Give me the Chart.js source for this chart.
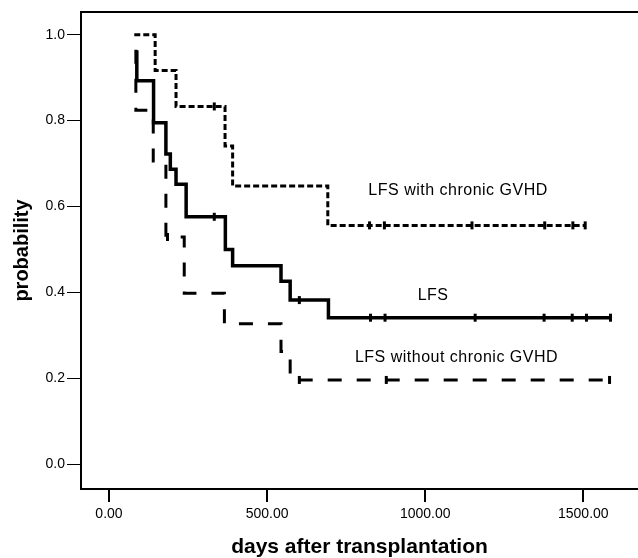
<!DOCTYPE html>
<html>
<head>
<meta charset="utf-8">
<title>LFS Kaplan-Meier</title>
<script src="https://cdn.jsdelivr.net/npm/chart.js@4/dist/chart.umd.min.js"></script>
<style>
  html, body { margin: 0; padding: 0; background: #fff; }
  canvas { display: block; }
</style>
</head>
<body>
<canvas id="km" width="638" height="558"></canvas>
<script>
// survival steps (days, probability)
const withDays = [80, 146, 212, 367, 391, 692, 1506];
const withSurv = [1.0, 0.917, 0.833, 0.741, 0.648, 0.556, 0.556];
const withCensDays = [333, 824, 871, 1148, 1378, 1467, 1506];
const withCensSurv = [0.833, 0.556, 0.556, 0.556, 0.556, 0.556, 0.556];

const lfsDays = [88, 88, 141, 180, 194, 212, 244, 368, 391, 544, 573, 694, 1586];
const lfsSurv = [0.964, 0.893, 0.795, 0.722, 0.687, 0.652, 0.576, 0.500, 0.462, 0.426, 0.382, 0.341, 0.341];
const lfsCensDays = [333, 602, 827, 873, 1158, 1376, 1465, 1510, 1586];
const lfsCensSurv = [0.576, 0.382, 0.341, 0.341, 0.341, 0.341, 0.341, 0.341, 0.341];

const withoutDays = [85, 85, 140, 180, 238, 365, 544, 573, 1583];
const withoutSurv = [0.965, 0.824, 0.706, 0.529, 0.398, 0.327, 0.262, 0.196, 0.196];
const withoutCensDays = [185, 602, 877, 1583];
const withoutCensSurv = [0.529, 0.196, 0.196, 0.196];

const curveLabels = ["LFS with chronic GVHD", "LFS", "LFS without chronic GVHD"];
const labelDays = [1104, 1025, 1099];
const labelSurv = [0.638, 0.393, 0.247];

const yTicks = [0, 0.2, 0.4, 0.6, 0.8, 1.0];
const xTicks = [0, 500, 1000, 1500];

function pts(xs, ys) {
  return xs.map((x, i) => ({x: x, y: ys[i]}));
}

function curve(xs, ys, dash, width) {
  return {
    data: pts(xs, ys),
    stepped: true,
    borderColor: '#000',
    borderWidth: width,
    borderDash: dash,
    borderCapStyle: 'butt',
    borderJoinStyle: 'miter',
    pointRadius: 0,
    fill: false
  };
}

function censors(xs, ys) {
  return {
    data: pts(xs, ys),
    showLine: false,
    pointStyle: 'line',
    rotation: 90,
    pointRadius: 4,
    pointBorderWidth: 3,
    pointBorderColor: '#000',
    pointBackgroundColor: '#000'
  };
}

const font = "'Liberation Sans', Arial, sans-serif";

// top frame line and the curve captions
const extras = {
  id: 'extras',
  afterDraw(chart) {
    const {ctx, chartArea, scales} = chart;
    ctx.save();
    ctx.strokeStyle = '#000';
    ctx.lineWidth = 2;
    ctx.beginPath();
    ctx.moveTo(chartArea.left - 1, chartArea.top);
    ctx.lineTo(chart.width, chartArea.top);
    ctx.stroke();
    ctx.fillStyle = '#000';
    ctx.font = '16px ' + font;
    ctx.letterSpacing = '0.5px';
    ctx.textAlign = 'center';
    ctx.textBaseline = 'middle';
    curveLabels.forEach((t, i) => {
      ctx.fillText(t, scales.x.getPixelForValue(labelDays[i]), scales.y.getPixelForValue(labelSurv[i]));
    });
    ctx.restore();
  }
};

new Chart(document.getElementById('km'), {
  type: 'line',
  data: {
    datasets: [
      curve(withDays, withSurv, [6, 3], 3),
      curve(lfsDays, lfsSurv, [], 3.5),
      curve(withoutDays, withoutSurv, [14, 15], 3),
      censors(withCensDays, withCensSurv),
      censors(lfsCensDays, lfsCensSurv),
      censors(withoutCensDays, withoutCensSurv)
    ]
  },
  options: {
    responsive: false,
    animation: false,
    devicePixelRatio: 1,
    layout: {autoPadding: false, padding: {top: 12, right: 0, bottom: 0, left: 0}},
    plugins: {legend: {display: false}, tooltip: {enabled: false}},
    scales: {
      x: {
        type: 'linear',
        min: -88.5,
        max: 1673,
        afterFit(s) { s.height = 69; },
        afterBuildTicks(s) { s.ticks = xTicks.map(v => ({value: v})); },
        ticks: {
          color: '#000',
          font: {family: font, size: 14},
          padding: 4,
          maxRotation: 0,
          callback: v => v.toFixed(2)
        },
        grid: {drawOnChartArea: false, drawTicks: true, tickLength: 13, color: '#000', lineWidth: 2},
        border: {display: true, color: '#000', width: 2},
        title: {
          display: true,
          text: 'days after transplantation',
          color: '#000',
          font: {family: font, size: 21, weight: 'bold', lineHeight: 1},
          padding: 0
        }
      },
      y: {
        type: 'linear',
        min: -0.058,
        max: 1.053,
        afterFit(s) { s.width = 81; },
        afterBuildTicks(s) { s.ticks = yTicks.map(v => ({value: v})); },
        ticks: {
          color: '#000',
          font: {family: font, size: 14},
          padding: 2,
          callback: v => v.toFixed(1)
        },
        grid: {drawOnChartArea: false, drawTicks: true, tickLength: 14, color: '#000', lineWidth: 1},
        border: {display: true, color: '#000', width: 2},
        title: {
          display: true,
          text: 'probability',
          color: '#000',
          font: {family: font, size: 20, weight: 'bold', lineHeight: 1.2},
          padding: {top: 10, bottom: 0}
        }
      }
    }
  },
  plugins: [extras]
});
</script>
</body>
</html>
